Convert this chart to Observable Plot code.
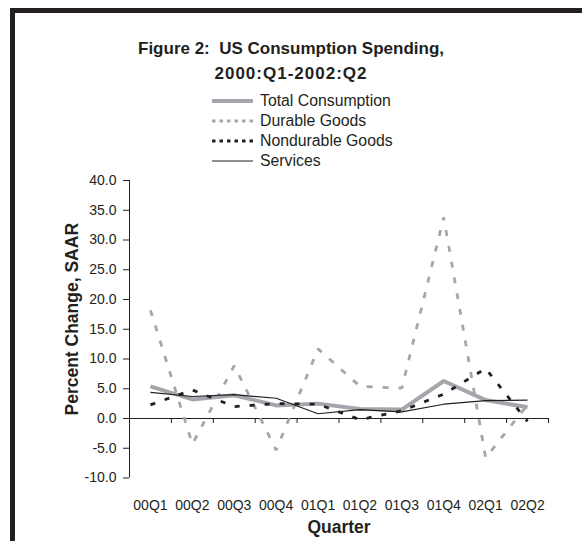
<!DOCTYPE html>
<html>
<head>
<meta charset="utf-8">
<script src="https://cdn.jsdelivr.net/npm/d3@7"></script>
<script src="https://cdn.jsdelivr.net/npm/@observablehq/plot@0.6"></script>
<style>
  html, body { margin: 0; padding: 0; background: #fff; }
  #page { position: relative; width: 582px; height: 541px; overflow: hidden; font-family: "Liberation Sans", Arial, sans-serif; color: #231f20; }
  #border { position: absolute; left: 10px; top: 8px; width: 600px; height: 600px; border-left: 5px solid #231f20; border-top: 5px solid #231f20; box-sizing: border-box; }
  #title { position: absolute; left: 0; width: 582px; top: 36px; text-align: center; font-weight: bold; font-size: 17px; line-height: 25px; }
  #title .l2 { letter-spacing: 1px; }
  #legend { position: absolute; left: 212px; top: 91px; font-size: 15.8px; }
  #legend .row { display: flex; align-items: center; height: 20px; }
  #legend svg { width: 41px; height: 20px; margin-right: 7px; }
  #chart { position: absolute; left: 0; top: 0; }
</style>
</head>
<body>
<div id="page">
  <div id="border"></div>
  <div id="chart"></div>
  <div id="title">Figure 2:&nbsp; US Consumption Spending,<br><span class="l2">2000:Q1-2002:Q2</span></div>
  <div id="legend"></div>
</div>
<script>
const quarters = ["00Q1","00Q2","00Q3","00Q4","01Q1","01Q2","01Q3","01Q4","02Q1","02Q2"];
const totalConsumption = [5.4, 3.2, 3.9, 2.2, 2.5, 1.6, 1.5, 6.3, 3.1, 1.9];
const durableGoods     = [18.2, -4.3, 8.9, -5.3, 11.7, 5.4, 5.1, 33.8, -6.6, 2.3];
const nondurableGoods  = [2.3, 4.8, 2.0, 2.5, 2.4, -0.2, 1.3, 4.1, 8.4, -0.5];
const services         = [4.4, 3.7, 4.0, 3.4, 0.8, 1.5, 1.1, 2.4, 3.0, 3.1];
const yTicks = [-10, -5, 0, 5, 10, 15, 20, 25, 30, 35, 40];
const seriesNames = ["Total Consumption", "Durable Goods", "Nondurable Goods", "Services"];

const ink = "#231f20";
const gray = "#a3a7ac";
const styles = {
  "Total Consumption": {stroke: gray, strokeWidth: 4, dash: null, legendDash: null},
  "Durable Goods": {stroke: gray, strokeWidth: 2.8, dash: "6,10", legendDash: "3.5,4"},
  "Nondurable Goods": {stroke: ink, strokeWidth: 2.8, dash: "5,10", legendDash: "3.5,4"},
  "Services": {stroke: ink, strokeWidth: 1.2, dash: null, legendDash: null}
};
const seriesValues = {
  "Total Consumption": totalConsumption,
  "Durable Goods": durableGoods,
  "Nondurable Goods": nondurableGoods,
  "Services": services
};

const idx = quarters.map((q, i) => i);
const boundaries = quarters.map((q, i) => i - 0.5).concat([quarters.length - 0.5]);
const rows = name => seriesValues[name].map((v, i) => ({i, v}));
const fmt1 = d => d3.format(".1f")(d).replace("\u2212", "-");

const drawOrder = ["Durable Goods", "Total Consumption", "Nondurable Goods", "Services"];

const chart = Plot.plot({
  width: 582,
  height: 541,
  marginTop: 180,
  marginBottom: 63.5,
  marginLeft: 129,
  marginRight: 34,
  style: {fontFamily: "'Liberation Sans', Arial, sans-serif", background: "transparent", color: ink},
  x: {type: "linear", domain: [boundaries[0], boundaries[boundaries.length - 1]]},
  y: {domain: [yTicks[0], yTicks[yTicks.length - 1]]},
  marks: [
    Plot.axisY({ticks: yTicks, tickFormat: fmt1, tickSize: 6, tickPadding: 7, fontSize: 14, label: null, stroke: ink, fill: ink}),
    Plot.axisX({ticks: idx, tickFormat: i => quarters[i], tickSize: 0, tickPadding: 22, fontSize: 14, label: null, fill: ink}),
    Plot.ruleX([boundaries[0]], {y1: yTicks[0], y2: yTicks[yTicks.length - 1], stroke: ink, strokeWidth: 1}),
    Plot.ruleY([0], {stroke: ink, strokeWidth: 1}),
    Plot.ruleX(boundaries, {y1: 0, y2: 0, insetBottom: -5, stroke: ink, strokeWidth: 1}),
    ...drawOrder.map(name => Plot.line(rows(name), {
      x: "i", y: "v",
      stroke: styles[name].stroke,
      strokeWidth: styles[name].strokeWidth,
      strokeDasharray: styles[name].dash,
      strokeLinejoin: "miter",
      strokeLinecap: "butt"
    })),
    Plot.text(["Percent Change, SAAR"], {frameAnchor: "left", textAnchor: "middle", lineAnchor: "middle", rotate: -90, dx: -57, dy: -10, fontSize: 17.5, fontWeight: "bold", fill: ink}),
    Plot.text(["Quarter"], {frameAnchor: "bottom", textAnchor: "middle", lineAnchor: "middle", dy: 49.5, fontSize: 17.5, fontWeight: "bold", fill: ink})
  ]
});
document.getElementById("chart").appendChild(chart);

const legend = d3.select("#legend");
seriesNames.forEach(name => {
  const s = styles[name];
  const row = legend.append("div").attr("class", "row");
  const svg = row.append("svg");
  svg.append("line")
    .attr("x1", 0).attr("x2", 41).attr("y1", 10).attr("y2", 10)
    .attr("stroke", s.stroke)
    .attr("stroke-width", name === "Services" ? 1 : s.strokeWidth)
    .attr("stroke-dasharray", s.legendDash);
  row.append("span").text(name);
});
</script>
</body>
</html>
